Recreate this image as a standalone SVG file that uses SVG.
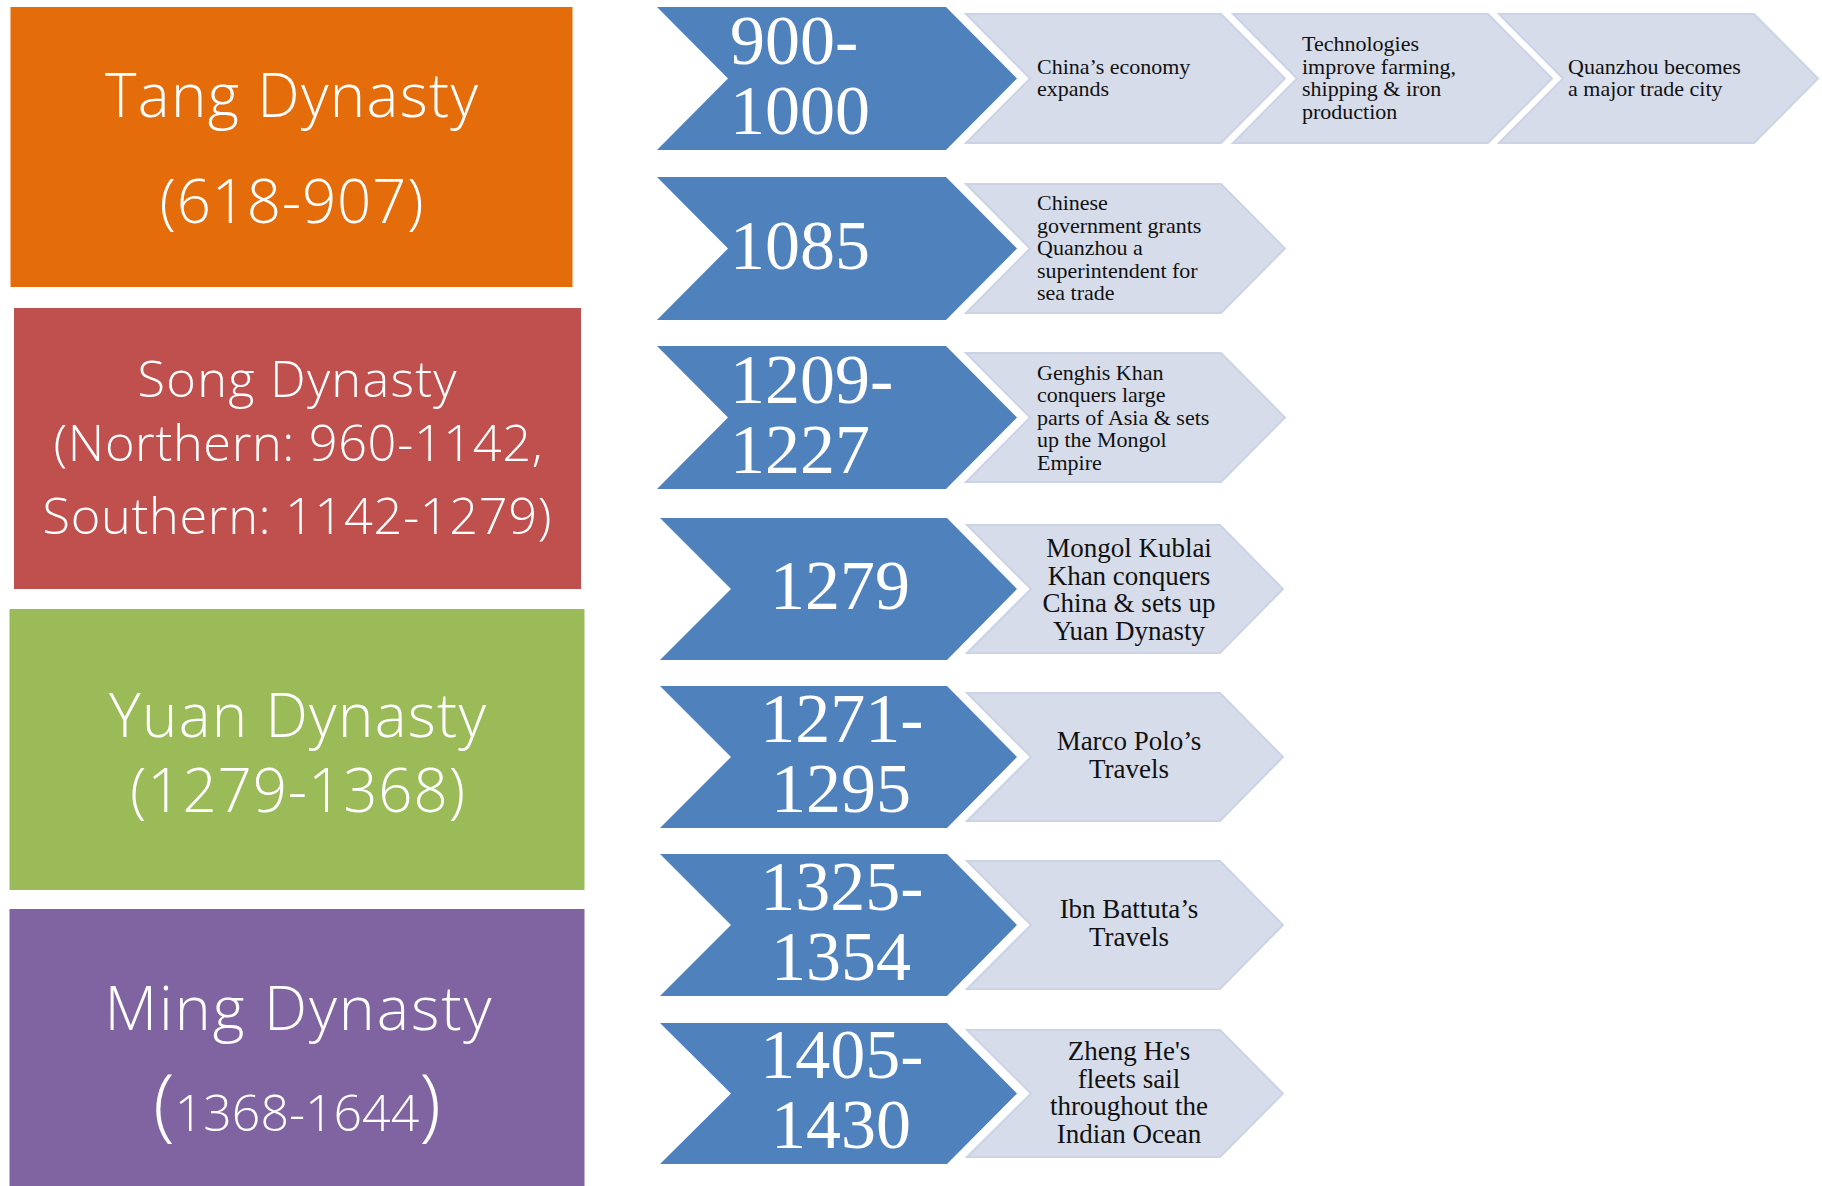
<svg xmlns="http://www.w3.org/2000/svg" width="1822" height="1186" viewBox="0 0 1822 1186">
<style>
.title{font-family:"Open Sans","Noto Sans","Liberation Sans",sans-serif;font-weight:350;fill:#FFFFFF;text-anchor:middle}
.date{font-family:"Liberation Serif","DejaVu Serif",serif;font-size:70px;fill:#FFFFFF}
.dc{text-anchor:middle}
.blue{fill:#4F81BD}
.light{fill:#D6DCE9;stroke:#CBD3E5;stroke-width:2}
.ev{font-family:"Liberation Serif","DejaVu Serif",serif;font-size:22px;fill:#111111}
.evc{font-family:"Liberation Serif","DejaVu Serif",serif;font-size:27px;fill:#111111;text-anchor:middle}
</style>
<rect width="1822" height="1186" fill="#FFFFFF"/>

<g id="tang">
<rect x="10.5" y="7" width="562" height="280" fill="#E46C0A"/>
<text class="title" x="291.5" y="117" font-size="60" textLength="373">Tang Dynasty</text>
<text class="title" x="291.5" y="223" font-size="60" textLength="264">(618-907)</text>
</g>
<g id="song">
<rect x="14" y="308" width="567" height="281" fill="#C0504D"/>
<text class="title" x="297" y="397" font-size="50.5" textLength="319">Song Dynasty</text>
<text class="title" x="298" y="461" font-size="50.5" textLength="489">(Northern: 960-1142,</text>
<text class="title" x="297" y="534" font-size="50.5" textLength="509">Southern: 1142-1279)</text>
</g>
<g id="yuan">
<rect x="9.5" y="609" width="575" height="281" fill="#9BBB59"/>
<text class="title" x="297.5" y="737" font-size="60" textLength="377">Yuan Dynasty</text>
<text class="title" x="297.5" y="812" font-size="60" textLength="335">(1279-1368)</text>
</g>
<g id="ming">
<rect x="9.5" y="909" width="575" height="290" fill="#8064A2"/>
<text class="title" x="298" y="1030" font-size="61" textLength="387">Ming Dynasty</text>
<text class="title" x="297" y="1131"><tspan font-size="80">(</tspan><tspan font-size="50">1368-1644</tspan><tspan font-size="80">)</tspan></text>
</g>

<g id="connectors"></g>

<g id="row1">
<polygon class="blue" points="657,7 946,7 1017,78.5 946,150 657,150 728,78.5"/>
<text class="date" x="730" y="64">900-</text>
<text class="date" x="730" y="134">1000</text>
<polygon class="light" points="966,14 1221,14 1285,78.5 1221,143 966,143 1030,78.5"/>
<text class="ev" x="1037" y="73.5">China’s economy</text>
<text class="ev" x="1037" y="95.5">expands</text>
<polygon class="light" points="1233,14 1488,14 1552,78.5 1488,143 1233,143 1297,78.5"/>
<text class="ev" x="1302" y="51">Technologies</text>
<text class="ev" x="1302" y="73.5">improve farming,</text>
<text class="ev" x="1302" y="96">shipping &amp; iron</text>
<text class="ev" x="1302" y="118.5">production</text>
<polygon class="light" points="1499,14 1754,14 1818,78.5 1754,143 1499,143 1563,78.5"/>
<text class="ev" x="1568" y="73.5">Quanzhou becomes</text>
<text class="ev" x="1568" y="95.5">a major trade city</text>
</g>

<g id="row2">
<polygon class="blue" points="657,177 946,177 1017,248.5 946,320 657,320 728,248.5"/>
<text class="date" x="730" y="269">1085</text>
<polygon class="light" points="966,184 1221,184 1285,248.5 1221,313 966,313 1030,248.5"/>
<text class="ev" x="1037" y="210">Chinese</text>
<text class="ev" x="1037" y="232.5">government grants</text>
<text class="ev" x="1037" y="255">Quanzhou a</text>
<text class="ev" x="1037" y="277.5">superintendent for</text>
<text class="ev" x="1037" y="300">sea trade</text>
</g>

<g id="row3">
<polygon class="blue" points="657,346 946,346 1017,417.5 946,489 657,489 728,417.5"/>
<text class="date" x="730" y="403">1209-</text>
<text class="date" x="730" y="473">1227</text>
<polygon class="light" points="966,353 1221,353 1285,417.5 1221,482 966,482 1030,417.5"/>
<text class="ev" x="1037" y="379.5">Genghis Khan</text>
<text class="ev" x="1037" y="402">conquers large</text>
<text class="ev" x="1037" y="424.5">parts of Asia &amp; sets</text>
<text class="ev" x="1037" y="447">up the Mongol</text>
<text class="ev" x="1037" y="469.5">Empire</text>
</g>

<g id="row4">
<polygon class="blue" points="660,518 947,518 1017,589 947,660 660,660 731,589"/>
<text class="date dc" x="840" y="609">1279</text>
<polygon class="light" points="967,525 1220,525 1283,589 1220,653 967,653 1031,589"/>
<text class="evc" x="1129" y="557">Mongol Kublai</text>
<text class="evc" x="1129" y="584.5">Khan conquers</text>
<text class="evc" x="1129" y="612">China &amp; sets up</text>
<text class="evc" x="1129" y="639.5">Yuan Dynasty</text>
</g>

<g id="row5">
<polygon class="blue" points="660,686 947,686 1017,757 947,828 660,828 731,757"/>
<text class="date dc" x="842" y="742">1271-</text>
<text class="date dc" x="841" y="812">1295</text>
<polygon class="light" points="967,693 1220,693 1283,757 1220,821 967,821 1031,757"/>
<text class="evc" x="1129" y="750">Marco Polo’s</text>
<text class="evc" x="1129" y="777.5">Travels</text>
</g>

<g id="row6">
<polygon class="blue" points="660,854 947,854 1017,925 947,996 660,996 731,925"/>
<text class="date dc" x="842" y="910">1325-</text>
<text class="date dc" x="841" y="980">1354</text>
<polygon class="light" points="967,861 1220,861 1283,925 1220,989 967,989 1031,925"/>
<text class="evc" x="1129" y="918">Ibn Battuta’s</text>
<text class="evc" x="1129" y="945.5">Travels</text>
</g>

<g id="row7">
<polygon class="blue" points="660,1023 947,1023 1017,1093.5 947,1164 660,1164 731,1093.5"/>
<text class="date dc" x="842" y="1078">1405-</text>
<text class="date dc" x="841" y="1148">1430</text>
<polygon class="light" points="967,1030 1220,1030 1283,1093.5 1220,1157 967,1157 1031,1093.5"/>
<text class="evc" x="1129" y="1060">Zheng He's</text>
<text class="evc" x="1129" y="1087.5">fleets sail</text>
<text class="evc" x="1129" y="1115">throughout the</text>
<text class="evc" x="1129" y="1142.5">Indian Ocean</text>
</g>
</svg>
